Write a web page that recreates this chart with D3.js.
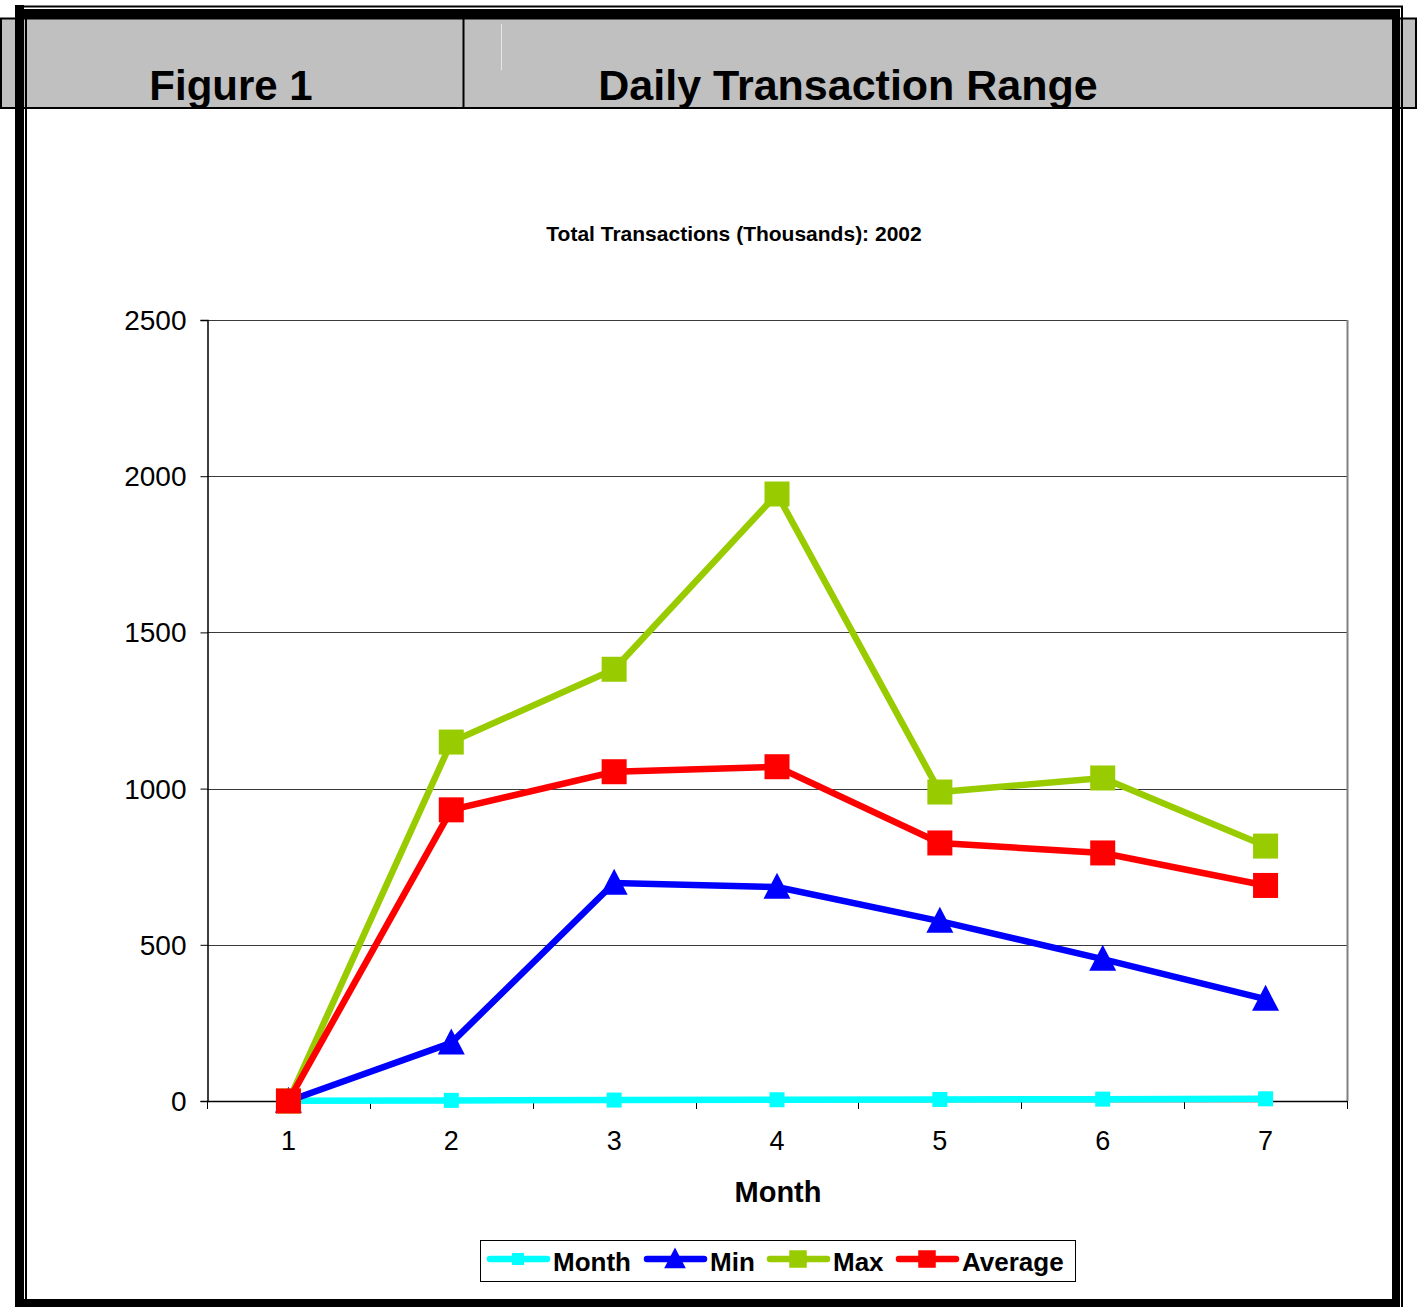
<!DOCTYPE html>
<html>
<head>
<meta charset="utf-8">
<script src="https://cdn.jsdelivr.net/npm/d3@7"></script>
<style>
html,body{margin:0;padding:0;background:#fff;}
svg{display:block;font-family:"Liberation Sans",Arial,sans-serif;}
</style>
</head>
<body>
<svg id="chart" width="1417" height="1307"></svg>
<script>
const categories = [1, 2, 3, 4, 5, 6, 7];
const monthValues = [1, 2, 3, 4, 5, 6, 7];
const minValues = [0, 186, 698, 685, 576, 454, 326];
const maxValues = [0, 1149, 1382, 1943, 989, 1034, 816];
const avgValues = [0, 932, 1054, 1070, 826, 794, 690];
const yTicks = [0, 500, 1000, 1500, 2000, 2500];
const seriesNames = ["Month", "Min", "Max", "Average"];
const seriesColors = ["#00FFFF", "#0000FF", "#99CC00", "#FF0000"];
const seriesMarkers = ["smallsquare", "triangle", "square", "square"];
const headerLeft = "Figure 1";
const headerRight = "Daily Transaction Range";
const chartTitle = "Total Transactions (Thousands): 2002";
const xTitle = "Month";

const svg = d3.select("#chart");

// ---- frame / header ----
svg.append("rect").attr("x", 0).attr("y", 18).attr("width", 1417).attr("height", 90).attr("fill", "#C0C0C0");
svg.append("rect").attr("x", 1).attr("y", 18.5).attr("width", 1415).attr("height", 89.5)
  .attr("fill", "none").attr("stroke", "#000").attr("stroke-width", 2);
svg.append("line").attr("x1", 463.5).attr("x2", 463.5).attr("y1", 18).attr("y2", 108).attr("stroke", "#000").attr("stroke-width", 2);
svg.append("line").attr("x1", 501.5).attr("x2", 501.5).attr("y1", 24).attr("y2", 70).attr("stroke", "#e6e6e6").attr("stroke-width", 1);
svg.append("line").attr("x1", 24).attr("x2", 1403).attr("y1", 6.5).attr("y2", 6.5).attr("stroke", "#000").attr("stroke-width", 2);
svg.append("rect").attr("x", 24).attr("y", 9).attr("width", 1376).attr("height", 10).attr("fill", "#000");
svg.append("rect").attr("x", 15).attr("y", 5).attr("width", 9).attr("height", 1302).attr("fill", "#000");
svg.append("rect").attr("x", 25).attr("y", 9).attr("width", 2).attr("height", 1298).attr("fill", "#000");
svg.append("rect").attr("x", 1392).attr("y", 9).attr("width", 8).attr("height", 1298).attr("fill", "#000");
svg.append("rect").attr("x", 1401).attr("y", 6).attr("width", 2).attr("height", 1301).attr("fill", "#000");
svg.append("rect").attr("x", 24).attr("y", 1299).attr("width", 1376).attr("height", 8).attr("fill", "#000");

svg.append("text").attr("x", 231).attr("y", 100).attr("text-anchor", "middle")
  .attr("font-size", 42).attr("font-weight", "bold").attr("fill", "#000").text(headerLeft);
svg.append("text").attr("x", 848).attr("y", 100).attr("text-anchor", "middle")
  .attr("font-size", 43).attr("font-weight", "bold").attr("fill", "#000").text(headerRight);

// ---- chart ----
svg.append("text").attr("x", 734).attr("y", 241).attr("text-anchor", "middle")
  .attr("font-size", 21).attr("font-weight", "bold").attr("fill", "#000").text(chartTitle);

const L = 207, R = 1347, T = 320, B = 1101;
const x = d3.scaleBand().domain(categories).range([L, R]);
const xc = d => x(d) + x.bandwidth() / 2;
const y = d3.scaleLinear().domain([0, 2500]).range([B, T]);

svg.append("g").selectAll("line").data(yTicks.filter(t => t > 0)).join("line")
  .attr("x1", L).attr("x2", R)
  .attr("y1", d => Math.round(y(d)) + 0.5).attr("y2", d => Math.round(y(d)) + 0.5)
  .attr("stroke", "#3a3a3a").attr("stroke-width", 1);
svg.append("line").attr("x1", R + 0.5).attr("x2", R + 0.5).attr("y1", T).attr("y2", B)
  .attr("stroke", "#808080").attr("stroke-width", 2);

const yAxis = d3.axisLeft(y).tickValues(yTicks).tickSize(7).tickPadding(14).tickFormat(d3.format("d"));
const gy = svg.append("g").attr("transform", `translate(${L + 0.5},0)`).call(yAxis);
gy.select(".domain").attr("stroke", "#000").attr("stroke-width", 1.5);
gy.selectAll(".tick line").attr("stroke", "#000");
gy.selectAll(".tick text").attr("font-size", 28).attr("font-family", "Liberation Sans, Arial, sans-serif")
  .attr("fill", "#000").attr("dy", "0.34em");

const xAxis = d3.axisBottom(x).tickSize(0).tickPadding(29);
const gx = svg.append("g").attr("transform", `translate(0,${B + 0.5})`).call(xAxis);
gx.select(".domain").remove();
gx.selectAll(".tick text").attr("font-size", 27).attr("font-family", "Liberation Sans, Arial, sans-serif").attr("fill", "#000");
svg.append("line").attr("x1", L).attr("x2", R).attr("y1", B + 0.5).attr("y2", B + 0.5).attr("stroke", "#000").attr("stroke-width", 1.5);
const boundaries = categories.map(c => x(c)).concat([R]);
svg.append("g").selectAll("line").data(boundaries).join("line")
  .attr("x1", d => Math.round(d) + 0.5).attr("x2", d => Math.round(d) + 0.5)
  .attr("y1", B).attr("y2", B + 8).attr("stroke", "#000").attr("stroke-width", 1);

svg.append("text").attr("x", 778).attr("y", 1202).attr("text-anchor", "middle")
  .attr("font-size", 29).attr("font-weight", "bold").attr("fill", "#000").text(xTitle);

const allSeries = [monthValues, minValues, maxValues, avgValues];
const line = d3.line().x((d, i) => xc(categories[i])).y(d => y(d));

function drawMarker(g, type, cx, cy, color, scale) {
  if (type === "square") {
    const s = 25 * scale;
    g.append("rect").attr("x", cx - s / 2).attr("y", cy - s / 2).attr("width", s).attr("height", s).attr("fill", color);
  } else if (type === "smallsquare") {
    const s = 15 * scale;
    g.append("rect").attr("x", cx - s / 2).attr("y", cy - s / 2).attr("width", s).attr("height", s).attr("fill", color);
  } else if (type === "triangle") {
    const w = 27 * scale, h = 26 * scale;
    g.append("path").attr("d", `M${cx},${cy - h * 0.55}L${cx + w / 2},${cy + h * 0.45}L${cx - w / 2},${cy + h * 0.45}Z`).attr("fill", color);
  }
}

allSeries.forEach((vals, si) => {
  const g = svg.append("g");
  g.append("path").datum(vals).attr("d", line).attr("fill", "none")
    .attr("stroke", seriesColors[si]).attr("stroke-width", 6.5).attr("stroke-linejoin", "miter");
  vals.forEach((v, i) => drawMarker(g, seriesMarkers[si], xc(categories[i]), y(v), seriesColors[si], 1));
});

const lg = svg.append("g");
lg.append("rect").attr("x", 480.5).attr("y", 1240.5).attr("width", 595).attr("height", 41)
  .attr("fill", "#fff").attr("stroke", "#000").attr("stroke-width", 1);
const legendX = [487, 644, 767, 896];
seriesNames.forEach((name, i) => {
  const lx = legendX[i], ly = 1259;
  lg.append("line").attr("x1", lx + 3).attr("x2", lx + 60).attr("y1", ly).attr("y2", ly)
    .attr("stroke", seriesColors[i]).attr("stroke-width", 6.5).attr("stroke-linecap", "round");
  drawMarker(lg, seriesMarkers[i], lx + 31, ly, seriesColors[i], seriesMarkers[i] === "square" ? 0.7 : 0.8);
  lg.append("text").attr("x", lx + 66).attr("y", 1271).attr("font-size", 26).attr("font-weight", "bold")
    .attr("fill", "#000").text(name);
});
</script>
</body>
</html>
